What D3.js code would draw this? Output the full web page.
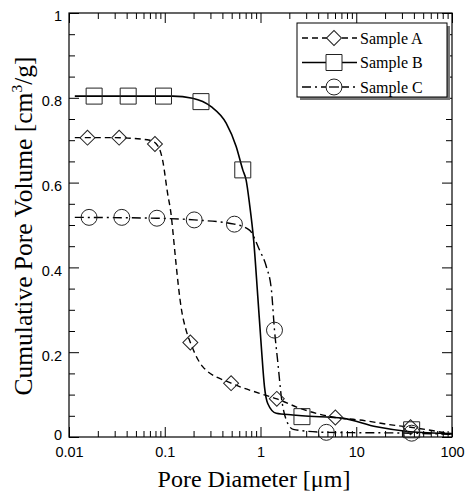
<!DOCTYPE html>
<html>
<head>
<meta charset="utf-8">
<script src="https://cdn.jsdelivr.net/npm/d3@7"></script>
<style>
  body { margin: 0; background: #fff; }
</style>
</head>
<body>
<svg id="chart" width="466" height="491"></svg>
<script>
// measured points (markers)
const seriesNames = ["Sample A", "Sample B", "Sample C"];

const aX = [0.0156, 0.0334, 0.079, 0.185, 0.493, 1.48, 6.05, 36.9];
const aY = [0.706, 0.706, 0.691, 0.223, 0.127, 0.090, 0.046, 0.023];

const bX = [0.0183, 0.0415, 0.097, 0.239, 0.653, 2.71, 37.9];
const bY = [0.804, 0.804, 0.804, 0.791, 0.630, 0.048, 0.017];

const cX = [0.0162, 0.0356, 0.0828, 0.203, 0.534, 1.40, 4.87, 37.9];
const cY = [0.518, 0.518, 0.516, 0.512, 0.502, 0.252, 0.011, 0.009];

// fitted curves
const aCurveX = [0.0115, 0.03, 0.07, 0.085, 0.095, 0.107, 0.116, 0.126, 0.131, 0.148, 0.167, 0.185, 0.249, 0.493, 0.977, 1.48, 2.56, 6.05, 10.9, 24.3, 36.9, 100];
const aCurveY = [0.706, 0.706, 0.700, 0.686, 0.653, 0.575, 0.528, 0.449, 0.410, 0.307, 0.252, 0.223, 0.166, 0.127, 0.103, 0.090, 0.068, 0.046, 0.040, 0.028, 0.023, 0.007];

const bCurveX = [0.0115, 0.121, 0.195, 0.305, 0.438, 0.557, 0.653, 0.708, 0.767, 0.85, 0.937, 1.02, 1.10, 1.19, 1.46, 2.18, 2.71, 7.27, 16.3, 36.3, 100];
const bCurveY = [0.804, 0.804, 0.799, 0.779, 0.740, 0.685, 0.630, 0.606, 0.551, 0.462, 0.331, 0.213, 0.119, 0.079, 0.056, 0.052, 0.050, 0.044, 0.024, 0.0125, 0.008];

const cCurveX = [0.0115, 0.0828, 0.203, 0.534, 0.767, 0.977, 1.15, 1.30, 1.40, 1.52, 1.65, 1.86, 2.2, 4.87, 37.9, 100];
const cCurveY = [0.518, 0.516, 0.512, 0.502, 0.488, 0.441, 0.402, 0.347, 0.252, 0.174, 0.095, 0.040, 0.018, 0.011, 0.009, 0.006];

const xMajor = [0.01, 0.1, 1, 10, 100];
const xLabels = ["0.01", "0.1", "1", "10", "100"];
const yMajor = [0, 0.2, 0.4, 0.6, 0.8, 1];
const yLabels = ["0", "0.2", "0.4", "0.6", "0.8", "1"];

const plotL = 69, plotR = 452, plotT = 13, plotB = 437;

const svg = d3.select("#chart");

const x = d3.scaleLog().domain([0.01, 100]).range([plotL, plotR]);
const y = d3.scaleLinear().domain([0, 1]).range([plotB, plotT]);

var xMinor = [];
[0.01, 0.1, 1, 10].forEach(function(dec) {
    d3.range(2, 10).forEach(function(k) { xMinor.push(dec * k); });
});
var yMinor = d3.range(0, 21).map(i => i * 0.05).filter(v => Math.abs(v * 5 - Math.round(v * 5)) > 1e-6);

function axisStyle(g) {
    g.select(".domain").remove();
    g.selectAll("line").attr("stroke", "#000").attr("stroke-width", 1);
    g.selectAll("text")
        .attr("font-family", "'Liberation Sans', Arial, sans-serif")
        .attr("font-size", 14.5)
        .attr("fill", "#000");
}

// bottom
svg.append("g").attr("transform", `translate(0,${plotB})`)
    .call(d3.axisBottom(x).tickValues(xMajor).tickSize(-10).tickPadding(10).tickFormat((d, i) => xLabels[i]))
    .call(axisStyle);
svg.append("g").attr("transform", `translate(0,${plotB})`)
    .call(d3.axisBottom(x).tickValues(xMinor).tickSize(-6).tickFormat(""))
    .call(axisStyle);
// top
svg.append("g").attr("transform", `translate(0,${plotT})`)
    .call(d3.axisTop(x).tickValues(xMajor).tickSize(-10).tickFormat(""))
    .call(axisStyle);
svg.append("g").attr("transform", `translate(0,${plotT})`)
    .call(d3.axisTop(x).tickValues(xMinor).tickSize(-6).tickFormat(""))
    .call(axisStyle);
// left
svg.append("g").attr("transform", `translate(${plotL},0)`)
    .call(d3.axisLeft(y).tickValues(yMajor).tickSize(-10).tickPadding(7).tickFormat((d, i) => yLabels[i]))
    .call(axisStyle)
    .call(g => g.selectAll("text").attr("dy", d => d === 0 ? "0.2em" : "0.55em"));
svg.append("g").attr("transform", `translate(${plotL},0)`)
    .call(d3.axisLeft(y).tickValues(yMinor).tickSize(-6).tickFormat(""))
    .call(axisStyle);
// right
svg.append("g").attr("transform", `translate(${plotR},0)`)
    .call(d3.axisRight(y).tickValues(yMajor).tickSize(-10).tickFormat(""))
    .call(axisStyle);
svg.append("g").attr("transform", `translate(${plotR},0)`)
    .call(d3.axisRight(y).tickValues(yMinor).tickSize(-6).tickFormat(""))
    .call(axisStyle);

// frame
svg.append("rect")
    .attr("x", plotL).attr("y", plotT)
    .attr("width", plotR - plotL).attr("height", plotB - plotT)
    .attr("fill", "none").attr("stroke", "#000").attr("stroke-width", 1.2);

// curves
const line = d3.line()
    .x(d => x(d[0]))
    .y(d => y(d[1]))
    .curve(d3.curveMonotoneX);

const dashA = "6,4", dashC = "9,4,2,4";

svg.append("path")
    .datum(d3.zip(aCurveX, aCurveY))
    .attr("d", line).attr("fill", "none")
    .attr("stroke", "#000").attr("stroke-width", 1.4).attr("stroke-dasharray", dashA);
svg.append("path")
    .datum(d3.zip(bCurveX, bCurveY))
    .attr("d", line).attr("fill", "none")
    .attr("stroke", "#000").attr("stroke-width", 1.6);
svg.append("path")
    .datum(d3.zip(cCurveX, cCurveY))
    .attr("d", line).attr("fill", "none")
    .attr("stroke", "#000").attr("stroke-width", 1.4).attr("stroke-dasharray", dashC);

// markers
const diamond = d3.symbol().type(d3.symbolSquare).size(112);
const square = d3.symbol().type(d3.symbolSquare).size(256);
const circle = d3.symbol().type(d3.symbolCircle).size(200);

function markers(xs, ys, sym, rot) {
    svg.append("g").selectAll("path")
        .data(d3.zip(xs, ys))
        .join("path")
        .attr("d", sym)
        .attr("transform", d => `translate(${x(d[0])},${y(d[1])}) rotate(${rot})`)
        .attr("fill", "none")
        .attr("stroke", "#222")
        .attr("stroke-width", 1);
}
markers(aX, aY, diamond, 45);
markers(bX, bY, square, 0);
markers(cX, cY, circle, 0);

// legend
const lg = svg.append("g");
lg.append("rect").attr("x", 300).attr("y", 26).attr("width", 150).attr("height", 74).attr("fill", "#777");
lg.append("rect").attr("x", 297).attr("y", 23).attr("width", 150).attr("height", 74)
    .attr("fill", "#fff").attr("stroke", "#000").attr("stroke-width", 1);

const legendRows = [
    { name: seriesNames[0], dash: dashA, sym: diamond, rot: 45 },
    { name: seriesNames[1], dash: null, sym: square, rot: 0 },
    { name: seriesNames[2], dash: dashC, sym: circle, rot: 0 }
];
legendRows.forEach(function(r, i) {
    var ly = 38 + i * 24.5;
    lg.append("line").attr("x1", 302).attr("x2", 357).attr("y1", ly).attr("y2", ly)
        .attr("stroke", "#000").attr("stroke-width", 1.3)
        .attr("stroke-dasharray", r.dash);
    lg.append("path").attr("d", r.sym)
        .attr("transform", `translate(334,${ly}) rotate(${r.rot})`)
        .attr("fill", "#fff").attr("stroke", "#222").attr("stroke-width", 1);
    if (r.name === "Sample C") {
        lg.append("line").attr("x1", 329).attr("x2", 339).attr("y1", ly).attr("y2", ly)
            .attr("stroke", "#000").attr("stroke-width", 1.3);
    }
    lg.append("text").attr("x", 360).attr("y", ly).attr("dy", "0.35em")
        .attr("font-family", "'Liberation Serif', 'Times New Roman', serif")
        .attr("font-size", 16).text(r.name);
});

// axis titles
svg.append("text")
    .attr("x", 254).attr("y", 487)
    .attr("text-anchor", "middle")
    .attr("font-family", "'Liberation Serif', 'Times New Roman', serif")
    .attr("font-size", 24)
    .text("Pore Diameter [\u03bcm]");

const yt = svg.append("text")
    .attr("transform", "translate(32,226) rotate(-90)")
    .attr("text-anchor", "middle")
    .attr("font-family", "'Liberation Serif', 'Times New Roman', serif")
    .attr("font-size", 25.5);
yt.append("tspan").text("Cumulative Pore Volume [cm");
yt.append("tspan").attr("font-size", 15.5).attr("dy", -10).text("3");
yt.append("tspan").attr("dy", 10).text("/g]");
</script>
</body>
</html>
